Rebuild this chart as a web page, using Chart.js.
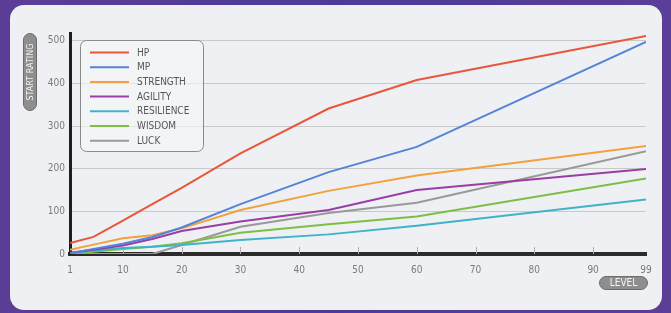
<!DOCTYPE html>
<html>
<head>
<meta charset="utf-8">
<script src="https://cdn.jsdelivr.net/npm/chart.js@4"></script>
<style>
  body { margin: 0; width: 671px; height: 313px; overflow: hidden;
         background: linear-gradient(90deg, #5b3d96 0%, #4d3a9a 50%, #5a3e98 100%); position: relative; }
  #panel { position: absolute; left: 10px; top: 5px; width: 652px; height: 305px;
           border-radius: 14px; background: #eef0f3; }
  #myChart { position: absolute; left: 0; top: 0; }
</style>
</head>
<body>
<div id="panel"></div>
<canvas id="myChart" width="671" height="313"></canvas>
<script>
const levels = [1, 5, 10, 15, 20, 30, 45, 60, 99];
const levelTicks = [1, 10, 20, 30, 40, 50, 60, 70, 80, 90, 99];
const ratingTicks = [0, 100, 200, 300, 400, 500];

const hp         = [26, 40, 78, 117, 155, 236, 341, 408, 511];
const mp         = [2, 12, 24, 40, 62, 117, 192, 251, 497];
const strength   = [10, 22, 37, 44, 60, 103, 148, 184, 253];
const agility    = [3, 10, 20, 35, 54, 76, 103, 150, 199];
const resilience = [2, 8, 14, 17, 21, 33, 46, 66, 128];
const wisdom     = [0, 5, 12, 17, 25, 50, 70, 88, 177];
const luck       = [0, 0, 0, 0, 21, 64, 96, 120, 241];

const seriesNames = ['HP', 'MP', 'STRENGTH', 'AGILITY', 'RESILIENCE', 'WISDOM', 'LUCK'];
const seriesValues = [hp, mp, strength, agility, resilience, wisdom, luck];
const seriesColors = ['#e8573b', '#5583d6', '#f1a23c', '#993ea4', '#3fb3c9', '#7dbf45', '#999999'];

const FONT = '"Liberation Sans Narrow", "DejaVu Sans Condensed", "Liberation Sans", sans-serif';

function pill(ctx, x, y, w, h) {
    const r = Math.min(w, h) / 2;
    ctx.beginPath();
    ctx.roundRect(x, y, w, h, r);
    ctx.fillStyle = '#8e8e8e';
    ctx.fill();
    ctx.strokeStyle = '#6c6c6c';
    ctx.lineWidth = 1;
    ctx.stroke();
}

// small tick marks sitting on top of the x axis
const axisTicks = {
    id: 'axisTicks',
    beforeDatasetsDraw(chart) {
        const ctx = chart.ctx;
        const xs = chart.scales.x;
        const bottom = chart.chartArea.bottom;
        ctx.save();
        ctx.strokeStyle = '#b0b0b0';
        ctx.lineWidth = 1;
        levelTicks.slice(1, -1).forEach(v => {
            const x = Math.round(xs.getPixelForValue(v)) + 0.5;
            ctx.beginPath();
            ctx.moveTo(x, bottom - 7);
            ctx.lineTo(x, bottom);
            ctx.stroke();
        });
        ctx.restore();
    }
};

// legend box inside the plot plus the two axis title pills
const decorations = {
    id: 'decorations',
    afterDraw(chart) {
        const ctx = chart.ctx;
        ctx.save();

        // legend
        ctx.beginPath();
        ctx.roundRect(80.5, 40.5, 123, 111, 6);
        ctx.fillStyle = 'rgba(245,246,248,0.6)';
        ctx.fill();
        ctx.strokeStyle = '#8a8a8a';
        ctx.lineWidth = 1;
        ctx.stroke();
        ctx.font = '10px ' + FONT;
        ctx.textBaseline = 'middle';
        ctx.textAlign = 'left';
        chart.data.datasets.forEach((ds, i) => {
            const y = 52.5 + i * 14.7;
            ctx.beginPath();
            ctx.moveTo(90, y);
            ctx.lineTo(129, y);
            ctx.strokeStyle = ds.borderColor;
            ctx.lineWidth = 2;
            ctx.stroke();
            ctx.fillStyle = '#555';
            ctx.fillText(ds.label, 137, y + 0.5);
        });

        // y-axis title pill
        pill(ctx, 23.5, 33.5, 13, 77);
        ctx.save();
        ctx.translate(30, 72);
        ctx.rotate(-Math.PI / 2);
        ctx.fillStyle = '#f4f4f4';
        ctx.textAlign = 'center';
        ctx.font = '9px ' + FONT;
        ctx.fillText('START RATING', 0, 0.5);
        ctx.restore();

        // x-axis title pill
        pill(ctx, 599.5, 276.5, 48, 13);
        ctx.fillStyle = '#f4f4f4';
        ctx.textAlign = 'center';
        ctx.font = '10px ' + FONT;
        ctx.fillText('LEVEL', 623.5, 283.5);

        ctx.restore();
    }
};

const ctx = document.getElementById('myChart').getContext('2d');
new Chart(ctx, {
    type: 'line',
    data: {
        datasets: seriesNames.map((name, i) => ({
            label: name,
            data: levels.map((lv, j) => ({ x: lv, y: seriesValues[i][j] })),
            borderColor: seriesColors[i],
            backgroundColor: seriesColors[i],
            borderWidth: 2,
            pointRadius: 0,
            tension: 0,
            fill: false
        }))
    },
    options: {
        responsive: false,
        animation: false,
        layout: { padding: { left: 0, right: 25, top: 33, bottom: 0 } },
        plugins: {
            legend: { display: false },
            tooltip: { enabled: false }
        },
        scales: {
            x: {
                type: 'linear',
                min: 1,
                max: 99,
                afterBuildTicks: axis => { axis.ticks = levelTicks.map(v => ({ value: v })); },
                afterFit: axis => { axis.height = 59; },
                grid: { display: false, drawTicks: false },
                border: { color: '#2b2b2b', width: 4 },
                ticks: { padding: 10, color: '#7a7a7a', font: { family: FONT, size: 10 }, maxRotation: 0, autoSkip: false }
            },
            y: {
                min: 0,
                max: 518,
                afterBuildTicks: axis => { axis.ticks = ratingTicks.map(v => ({ value: v })); },
                afterFit: axis => { axis.width = 70; },
                grid: { color: '#c9c9c9', lineWidth: 1, drawTicks: false },
                border: { color: '#1e1e1e', width: 3 },
                ticks: { padding: 5, color: '#7a7a7a', font: { family: FONT, size: 10 } }
            }
        }
    },
    plugins: [axisTicks, decorations]
});
</script>
</body>
</html>
